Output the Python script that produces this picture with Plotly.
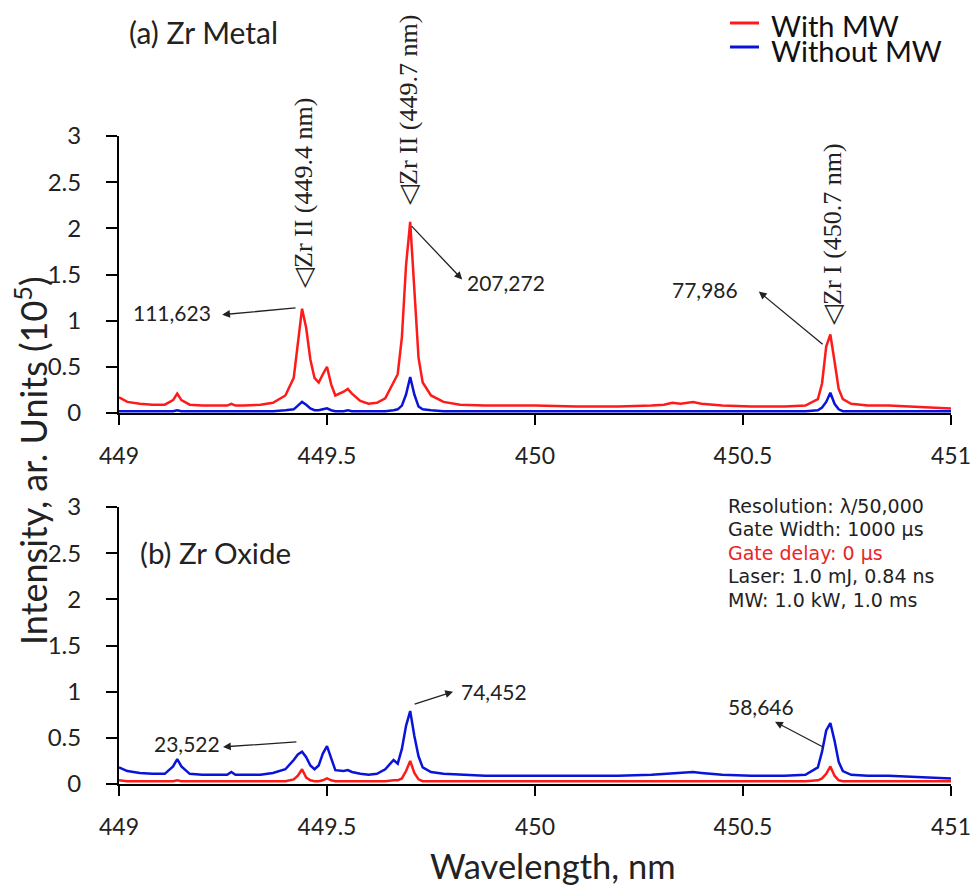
import plotly.graph_objects as go

# ---------------- data ----------------
wavelength = [449.00, 449.02, 449.05, 449.08, 449.11, 449.13, 449.14, 449.15, 449.17, 449.20,
              449.24, 449.26, 449.27, 449.28, 449.30, 449.34, 449.37, 449.40, 449.42, 449.43,
              449.44, 449.45, 449.46, 449.47, 449.48, 449.49, 449.50, 449.51, 449.52, 449.54,
              449.55, 449.56, 449.58, 449.60, 449.62, 449.64, 449.66, 449.67, 449.68, 449.69,
              449.70, 449.71, 449.72, 449.73, 449.75, 449.78, 449.82, 449.88, 449.95, 450.00,
              450.10, 450.20, 450.28, 450.31, 450.33, 450.35, 450.38, 450.40, 450.45, 450.52,
              450.60, 450.65, 450.68, 450.69, 450.70, 450.71, 450.72, 450.73, 450.74, 450.76,
              450.80, 450.85, 450.90, 450.95, 451.00]

metal_with_mw = [0.17, 0.12, 0.10, 0.09, 0.09, 0.14, 0.21, 0.14, 0.09, 0.08,
                 0.08, 0.08, 0.10, 0.08, 0.08, 0.09, 0.11, 0.19, 0.38, 0.78,
                 1.13, 0.92, 0.58, 0.38, 0.33, 0.42, 0.50, 0.31, 0.19, 0.23,
                 0.26, 0.21, 0.13, 0.10, 0.11, 0.16, 0.34, 0.42, 0.82, 1.60,
                 2.07, 1.30, 0.60, 0.33, 0.19, 0.12, 0.09, 0.08, 0.08, 0.08,
                 0.07, 0.07, 0.08, 0.09, 0.11, 0.10, 0.12, 0.10, 0.08, 0.07,
                 0.07, 0.08, 0.15, 0.32, 0.72, 0.85, 0.56, 0.26, 0.15, 0.10,
                 0.08, 0.08, 0.07, 0.06, 0.05]

metal_without_mw = [0.02, 0.02, 0.02, 0.02, 0.02, 0.02, 0.03, 0.02, 0.02, 0.02,
                    0.02, 0.02, 0.02, 0.02, 0.02, 0.02, 0.02, 0.03, 0.04, 0.08,
                    0.12, 0.09, 0.05, 0.03, 0.03, 0.04, 0.05, 0.03, 0.02, 0.02,
                    0.03, 0.02, 0.02, 0.02, 0.02, 0.02, 0.03, 0.04, 0.08, 0.20,
                    0.39, 0.20, 0.07, 0.04, 0.03, 0.02, 0.02, 0.02, 0.02, 0.02,
                    0.02, 0.02, 0.02, 0.02, 0.02, 0.02, 0.02, 0.02, 0.02, 0.02,
                    0.02, 0.02, 0.03, 0.06, 0.12, 0.22, 0.10, 0.04, 0.02, 0.02,
                    0.02, 0.02, 0.02, 0.02, 0.02]

oxide_without_mw = [0.18, 0.14, 0.12, 0.11, 0.11, 0.19, 0.27, 0.19, 0.11, 0.10,
                    0.10, 0.10, 0.13, 0.10, 0.10, 0.10, 0.12, 0.16, 0.26, 0.32,
                    0.35, 0.29, 0.20, 0.16, 0.20, 0.33, 0.41, 0.27, 0.15, 0.14,
                    0.15, 0.13, 0.11, 0.10, 0.11, 0.16, 0.26, 0.22, 0.38, 0.63,
                    0.79, 0.52, 0.30, 0.18, 0.13, 0.11, 0.10, 0.09, 0.09, 0.09,
                    0.09, 0.09, 0.10, 0.11, 0.12, 0.12, 0.13, 0.12, 0.10, 0.09,
                    0.09, 0.10, 0.18, 0.35, 0.58, 0.66, 0.47, 0.24, 0.14, 0.10,
                    0.09, 0.09, 0.08, 0.07, 0.06]

oxide_with_mw = [0.04, 0.03, 0.03, 0.03, 0.03, 0.03, 0.04, 0.03, 0.03, 0.03,
                 0.03, 0.03, 0.03, 0.03, 0.03, 0.03, 0.03, 0.03, 0.05, 0.09,
                 0.16, 0.07, 0.04, 0.03, 0.03, 0.04, 0.06, 0.04, 0.03, 0.03,
                 0.03, 0.03, 0.03, 0.03, 0.03, 0.03, 0.04, 0.04, 0.06, 0.14,
                 0.25, 0.12, 0.05, 0.03, 0.03, 0.03, 0.03, 0.03, 0.03, 0.03,
                 0.03, 0.03, 0.03, 0.03, 0.03, 0.03, 0.03, 0.03, 0.03, 0.03,
                 0.03, 0.03, 0.04, 0.06, 0.11, 0.19, 0.09, 0.04, 0.03, 0.03,
                 0.03, 0.03, 0.03, 0.03, 0.03]

x_ticks = [449, 449.5, 450, 450.5, 451]
x_tick_labels = ["449", "449.5", "450", "450.5", "451"]
y_ticks = [0, 0.5, 1, 1.5, 2, 2.5, 3]
y_tick_labels = ["0", "0.5", "1", "1.5", "2", "2.5", "3"]

legend_names = ["With MW", "Without MW"]
line_labels = ["◁Zr II (449.4 nm)", "◁Zr II (449.7 nm)", "◁Zr I (450.7 nm)"]
peak_values = ["111,623", "207,272", "77,986", "74,452", "23,522", "58,646"]
info_lines = ["Resolution: λ/50,000", "Gate Width: 1000 µs", "Gate delay: 0 µs",
              "Laser: 1.0 mJ, 0.84 ns", "MW: 1.0 kW, 1.0 ms"]
info_colors = ["#222222", "#222222", "#e8262a", "#222222", "#222222"]

RED = "#ff1a1a"
BLUE = "#0a14d8"
FONT = "Lato"
TXT = "#222222"

# page offset of the figure (body margin) and plot area in page pixels
OFF = 8
W, H = 979 - OFF, 886 - OFF
L, R, T, B = 119, 951, 136, 784


def px_x(px):
    return (px - L) / (R - L)


def px_y(py):
    return (B - py) / (B - T)


fig = go.Figure()
fig.add_trace(go.Scatter(x=wavelength, y=metal_with_mw, mode="lines", name=legend_names[0],
                         line=dict(color=RED, width=2.5), xaxis="x", yaxis="y"))
fig.add_trace(go.Scatter(x=wavelength, y=metal_without_mw, mode="lines", name=legend_names[1],
                         line=dict(color=BLUE, width=2.5), xaxis="x", yaxis="y"))
fig.add_trace(go.Scatter(x=wavelength, y=oxide_without_mw, mode="lines", name=legend_names[1],
                         line=dict(color=BLUE, width=2.5), xaxis="x2", yaxis="y2"))
fig.add_trace(go.Scatter(x=wavelength, y=oxide_with_mw, mode="lines", name=legend_names[0],
                         line=dict(color=RED, width=2.5), xaxis="x2", yaxis="y2"))

xax = dict(range=[449, 451], tickvals=x_ticks, ticktext=x_tick_labels, showgrid=False,
           zeroline=False, showline=True, linecolor="black", linewidth=2, ticks="outside",
           ticklen=10, tickwidth=2, tickcolor="black", ticklabelstandoff=11,
           tickfont=dict(family=FONT, size=23, color=TXT))
yax = dict(range=[0, 3], tickvals=y_ticks, ticktext=y_tick_labels, showgrid=False,
           zeroline=False, showline=True, linecolor="black", linewidth=2, ticks="outside",
           ticklen=11, tickwidth=2, tickcolor="black", ticklabelstandoff=20,
           tickfont=dict(family=FONT, size=24, color=TXT))

fig.update_layout(
    width=W, height=H,
    margin=dict(l=L - OFF, r=W - (R - OFF), t=T - OFF, b=H - (B - OFF), autoexpand=False),
    paper_bgcolor="white", plot_bgcolor="white",
    xaxis=dict(xax, domain=[0, 1], anchor="y"),
    yaxis=dict(yax, domain=[px_y(413), 1.0], anchor="x"),
    xaxis2=dict(xax, domain=[0, 1], anchor="y2"),
    yaxis2=dict(yax, domain=[0, px_y(507)], anchor="x2"),
    showlegend=False,
)

ann = []
shapes = []


def label(text, px, py, size, family=FONT, color=TXT, xanchor="center", angle=0):
    ann.append(dict(text=text, xref="paper", yref="paper", x=px_x(px), y=px_y(py),
                    xanchor=xanchor, yanchor="middle", textangle=angle, showarrow=False,
                    font=dict(family=family, size=size, color=color)))


# panel titles
label("(a) Zr Metal", 127, 32, 30, xanchor="left")
label("(b) Zr Oxide", 138, 552, 29.5, xanchor="left")
# axis titles
label("Intensity, ar. Units (10<sup>5</sup>)", 31, 461, 36, angle=-90)
label("Wavelength, nm", 553, 866, 34.5)

# legend drawn manually (tight spacing in the reference)
for name, col, py in zip(legend_names, [RED, BLUE], [23, 47]):
    shapes.append(dict(type="line", xref="paper", yref="paper", x0=px_x(730), x1=px_x(759),
                       y0=px_y(py), y1=px_y(py), line=dict(color=col, width=3)))
    label(name, 769, py + 3, 29, color="#111111", xanchor="left")

# rotated line labels
for txt, (px, py) in zip(line_labels, [(304, 193), (408, 110), (832, 234)]):
    label(txt, px, py, 26, family="Liberation Serif", angle=-90)

# arrows: tail at the peak, head next to the value label
arrow_specs = [
    # tail_x, tail_y, head_x, head_y, text_x, text_y, axes
    (449.428, 1.14, 449.248, 1.065, 449.127, 1.087, "x", "y"),
    (449.700, 2.04, 449.825, 1.446, 449.930, 1.413, "x", "y"),
    (450.695, 0.73, 450.538, 1.315, 450.409, 1.337, "x", "y"),
    (449.707, 0.86, 449.803, 1.000, 449.901, 1.000, "x2", "y2"),
    (449.430, 0.457, 449.250, 0.402, 449.163, 0.435, "x2", "y2"),
    (450.697, 0.39, 450.577, 0.674, 450.543, 0.837, "x2", "y2"),
]
for txt, (tx, ty, hx, hy, lx, ly, xr, yr) in zip(peak_values, arrow_specs):
    ann.append(dict(text="", x=hx, y=hy, ax=tx, ay=ty, xref=xr, yref=yr, axref=xr, ayref=yr,
                    showarrow=True, arrowhead=2, arrowsize=1.2, arrowwidth=1.3,
                    arrowcolor="#222"))
    ann.append(dict(text=txt, x=lx, y=ly, xref=xr, yref=yr, showarrow=False,
                    xanchor="center", yanchor="middle",
                    font=dict(family=FONT, size=21, color=TXT)))

# info box
for i, (txt, col) in enumerate(zip(info_lines, info_colors)):
    label(txt, 726, 506 + 23.4 * i, 19, family="DejaVu Sans", color=col, xanchor="left")

fig.update_layout(annotations=ann, shapes=shapes)
fig.write_html("out.html")
